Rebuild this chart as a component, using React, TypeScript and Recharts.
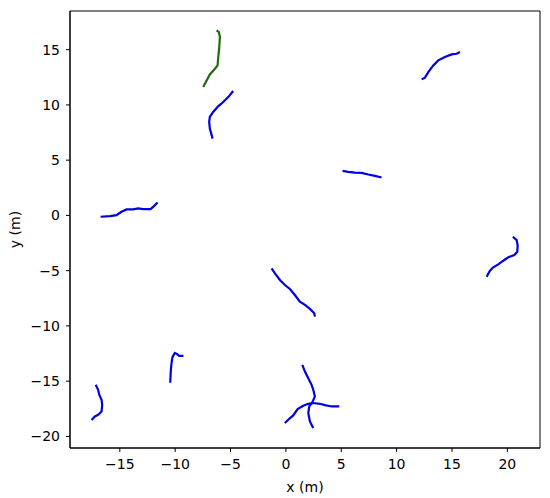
import { LineChart, Line, XAxis, YAxis, ReferenceArea, Label } from "recharts";

type Pt = { x: number; y: number };
const pts = (xs: number[], ys: number[]): Pt[] => xs.map((x, i) => ({ x, y: ys[i] }));

// trajectories (metres)
const greenX = [-7.47, -7.16, -6.87, -6.41, -6.17, -6.11, -6.02, -5.96, -6.05, -6.26];
const greenY = [11.62, 12.22, 12.76, 13.28, 13.58, 14.33, 15.23, 16.13, 16.59, 16.74];

const trackX = [
  [-6.62, -6.87, -6.93, -6.87, -6.57, -6.12, -5.66, -5.21, -4.76],
  [-16.74, -15.9, -15.3, -14.85, -14.39, -13.79, -13.34, -12.89, -12.22, -11.92, -11.59],
  [12.26, 12.56, 12.86, 13.31, 13.76, 14.36, 14.97, 15.42, 15.72],
  [5.12, 5.63, 6.23, 6.84, 7.44, 8.04, 8.64],
  [20.5, 20.84, 20.93, 20.9, 20.63, 20.09, 19.63, 19.18, 18.73, 18.43, 18.13],
  [-1.29, -0.99, -0.54, -0.09, 0.36, 0.81, 1.26, 1.72, 2.17, 2.56, 2.62],
  [-10.45, -10.42, -10.39, -10.33, -10.24, -10.03, -9.82, -9.64, -9.25],
  [-17.18, -16.96, -16.86, -16.65, -16.59, -16.65, -16.96, -17.25, -17.55],
  [1.48, 1.72, 2.02, 2.32, 2.47, 2.62, 2.38, 2.11, 2.02, 2.17, 2.47],
  [-0.09, 0.21, 0.66, 1.06, 1.56, 2.02, 2.47, 3.07, 3.52, 4.13, 4.82],
];
const trackY = [
  [6.95, 7.86, 8.46, 8.91, 9.36, 9.87, 10.26, 10.71, 11.26],
  [-0.12, -0.06, 0.03, 0.33, 0.54, 0.54, 0.63, 0.57, 0.57, 0.84, 1.17],
  [12.31, 12.47, 12.97, 13.58, 14.03, 14.33, 14.57, 14.63, 14.78],
  [4.03, 3.94, 3.88, 3.85, 3.7, 3.58, 3.43],
  [-1.93, -2.23, -2.68, -3.29, -3.59, -3.79, -4.1, -4.43, -4.7, -5.0, -5.55],
  [-4.79, -5.24, -5.84, -6.3, -6.66, -7.2, -7.8, -8.1, -8.46, -8.85, -9.16],
  [-15.15, -14.58, -13.97, -13.37, -12.8, -12.45, -12.55, -12.72, -12.72],
  [-15.33, -15.78, -16.23, -16.69, -17.14, -17.74, -18.04, -18.19, -18.52],
  [-13.52, -14.13, -14.73, -15.33, -15.78, -16.38, -16.93, -17.29, -17.89, -18.64, -19.24],
  [-18.79, -18.49, -18.1, -17.53, -17.23, -17.05, -16.98, -17.05, -17.17, -17.29, -17.29],
];

const xTicks = [-15, -10, -5, 0, 5, 10, 15, 20];
const yTicks = [-20, -15, -10, -5, 0, 5, 10, 15];
const xDomain = [-19.5, 22.95];
const yDomain = [-21.05, 18.5];

const font = "DejaVu Sans";
const fs = 14;
const fmt = (v: number) => (v < 0 ? "\u2212" + Math.abs(v) : String(v));

export default function App() {
  const green = pts(greenX, greenY);
  const tracks = trackX.map((xs, i) => pts(xs, trackY[i]));
  return (
    <div style={{ position: "absolute", left: 0, top: 0, background: "#fff" }}>
      <LineChart width={550} height={498} margin={{ top: 11, right: 10, bottom: 0, left: 0 }}>
        <XAxis
          type="number"
          dataKey="x"
          domain={xDomain}
          ticks={xTicks}
          allowDataOverflow
          tickFormatter={fmt}
          height={50}
          tickSize={4}
          tickMargin={7}
          stroke="#000"
          tick={{ fill: "#000", fontSize: fs, fontFamily: font }}
        >
          <Label value="x (m)" position="insideBottom" offset={6} style={{ fill: "#000", fontSize: fs, fontFamily: font }} />
        </XAxis>
        <YAxis
          type="number"
          dataKey="y"
          domain={yDomain}
          ticks={yTicks}
          allowDataOverflow
          tickFormatter={fmt}
          width={70}
          tickSize={4}
          tickMargin={6}
          stroke="#000"
          tick={{ fill: "#000", fontSize: fs, fontFamily: font }}
        >
          <Label value="y (m)" angle={-90} position="insideLeft" offset={15} style={{ fill: "#000", fontSize: fs, fontFamily: font, textAnchor: "middle" }} />
        </YAxis>
        <ReferenceArea x1={xDomain[0]} x2={xDomain[1]} y1={yDomain[0]} y2={yDomain[1]} fill="none" stroke="#000" strokeWidth={1} />
        {tracks.map((d, i) => (
          <Line key={i} data={d} dataKey="y" type="linear" stroke="#0000e0" strokeWidth={2.2} dot={false} isAnimationActive={false} />
        ))}
        <Line data={green} dataKey="y" type="linear" stroke="#1e6b0e" strokeWidth={2.2} dot={false} isAnimationActive={false} />
      </LineChart>
    </div>
  );
}
